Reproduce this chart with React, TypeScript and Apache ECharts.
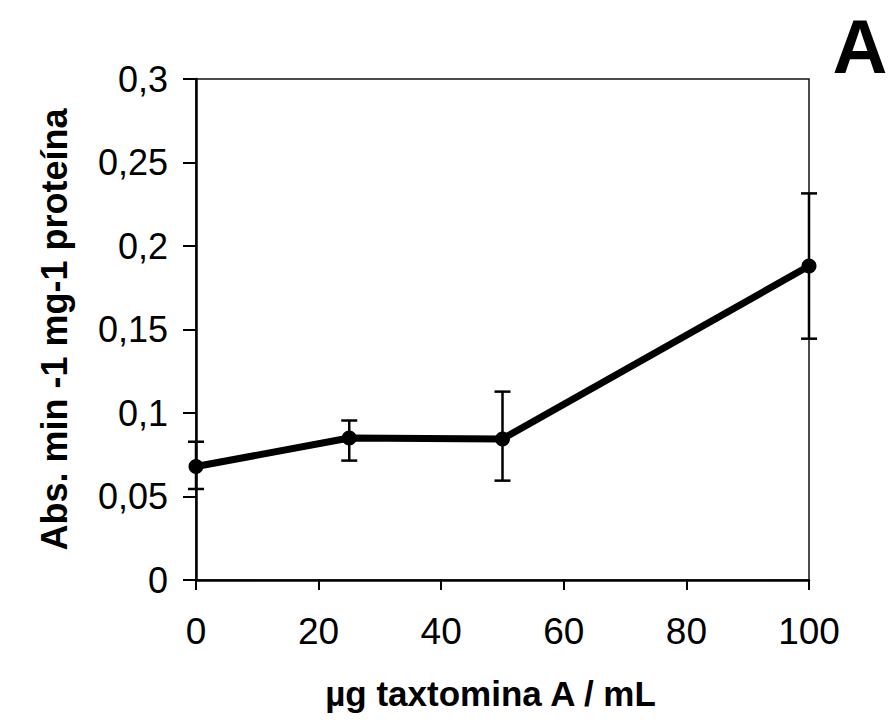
import React, { useEffect, useRef } from "react";
import * as echarts from "echarts";

const doses = [0, 25, 50, 100];
const means = [0.068, 0.085, 0.0845, 0.188];
const lowErr = [0.0545, 0.0715, 0.0595, 0.1445];
const highErr = [0.0828, 0.0955, 0.1128, 0.2315];
const yTicks = [0, 0.05, 0.1, 0.15, 0.2, 0.25, 0.3];

const fmt = (v: number) => String(v).replace(".", ",");

export default function App() {
  const ref = useRef<HTMLDivElement>(null);
  useEffect(() => {
    const chart = echarts.init(ref.current!, null, { renderer: "svg" });
    const font = "'Liberation Sans', Arial, sans-serif";
    chart.setOption({
      animation: false,
      backgroundColor: "#ffffff",
      grid: {
        left: 196,
        right: 87,
        top: 79,
        bottom: 147,
        show: true,
        borderColor: "#111",
        borderWidth: 1.5,
        backgroundColor: "transparent",
      },
      graphic: [
        {
          type: "text",
          x: 860,
          y: 46,
          style: {
            text: "A",
            fontFamily: font,
            fontWeight: "bold",
            fontSize: 76,
            fill: "#000",
            textAlign: "center",
            textVerticalAlign: "middle",
          },
        },
      ],
      xAxis: {
        type: "value",
        min: 0,
        max: 100,
        interval: 20,
        name: "µg taxtomina A / mL",
        nameLocation: "middle",
        nameGap: 96,
        nameTextStyle: {
          fontFamily: font,
          fontWeight: "bold",
          fontSize: 35,
          color: "#000",
          padding: [0, 24, 0, 0],
        },
        axisLine: { lineStyle: { color: "#000", width: 2.5 } },
        axisTick: { show: true, length: 10, lineStyle: { color: "#000", width: 2 } },
        axisLabel: { fontFamily: font, fontSize: 37, color: "#000", margin: 33 },
        splitLine: { show: false },
      },
      yAxis: {
        type: "value",
        min: 0,
        max: 0.3,
        interval: 0.05,
        name: "Abs. min -1 mg-1 proteína",
        nameLocation: "middle",
        nameGap: 124,
        nameRotate: 90,
        nameTextStyle: { fontFamily: font, fontWeight: "bold", fontSize: 36, color: "#000" },
        axisLine: { show: true, lineStyle: { color: "#000", width: 2.5 } },
        axisTick: { show: true, length: 13, lineStyle: { color: "#000", width: 2 } },
        axisLabel: {
          fontFamily: font,
          fontSize: 36,
          color: "#000",
          margin: 28,
          formatter: (v: number) => {
            const t = yTicks.find((x) => Math.abs(x - v) < 1e-9);
            return fmt(t !== undefined ? t : v);
          },
        },
        splitLine: { show: false },
      },
      series: [
        {
          type: "custom",
          renderItem: (params: any, api: any) => {
            const x = api.value(0);
            const lo = api.coord([x, api.value(1)]);
            const hi = api.coord([x, api.value(2)]);
            const hw = 8;
            const style = { stroke: "#000", lineWidth: 2.5 };
            return {
              type: "group",
              children: [
                { type: "line", shape: { x1: lo[0], y1: lo[1], x2: hi[0], y2: hi[1] }, style },
                { type: "line", shape: { x1: lo[0] - hw, y1: lo[1], x2: lo[0] + hw, y2: lo[1] }, style },
                { type: "line", shape: { x1: hi[0] - hw, y1: hi[1], x2: hi[0] + hw, y2: hi[1] }, style },
              ],
            };
          },
          data: doses.map((d, i) => [d, lowErr[i], highErr[i]]),
          z: 3,
        },
        {
          type: "line",
          data: doses.map((d, i) => [d, means[i]]),
          symbol: "circle",
          symbolSize: 15,
          lineStyle: { color: "#000", width: 7 },
          itemStyle: { color: "#000" },
          z: 4,
        },
      ],
    });
    return () => chart.dispose();
  }, []);
  return (
    <div
      ref={ref}
      style={{ position: "absolute", left: 0, top: 0, width: 896, height: 727 }}
    />
  );
}
